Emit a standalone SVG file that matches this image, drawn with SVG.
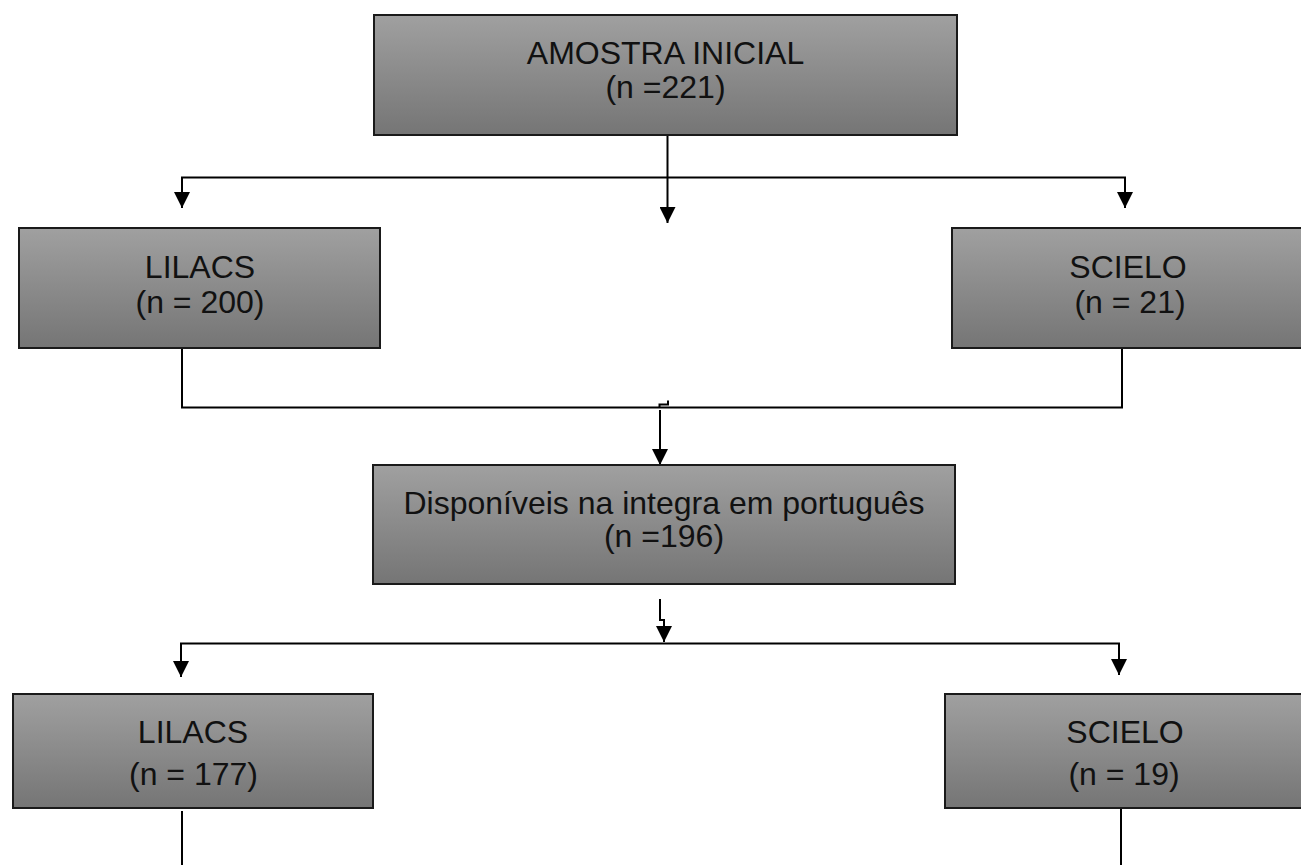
<svg xmlns="http://www.w3.org/2000/svg" width="1301" height="865" viewBox="0 0 1301 865">
<defs>
<linearGradient id="g" x1="0" y1="0" x2="0" y2="1">
<stop offset="0" stop-color="#a0a0a0"/>
<stop offset="1" stop-color="#757575"/>
</linearGradient>
<marker id="arr" viewBox="0 0 15 15" refX="15" refY="7.5" markerWidth="16" markerHeight="16" markerUnits="userSpaceOnUse" orient="auto">
<path d="M0,0 L15,7.5 L0,15 z" fill="#000"/>
</marker>
<style>
.box{fill:url(#g);stroke:#1a1a1a;stroke-width:2}
.t{font-family:"Liberation Sans",Arial,sans-serif;font-size:32px;fill:#111;text-anchor:middle}
.c{fill:none;stroke:#000;stroke-width:2}
</style>
</defs>
<rect width="1301" height="865" fill="#fff"/>
<g id="connectors">
<line class="c" x1="667.5" y1="128" x2="667.5" y2="223" marker-end="url(#arr)"/>
<polyline class="c" points="182,208 182,177.5 1125,177.5 1125,208" marker-end="url(#arr)"/>
<line class="c" x1="182" y1="177.5" x2="182" y2="208" marker-end="url(#arr)"/>
<polyline class="c" points="182,348 182,407.5 1122,407.5 1122,345"/>
<polyline class="c" points="668,400.5 668,404.5 659.5,404.5 659.5,408"/>
<line class="c" x1="660" y1="410" x2="660" y2="465" marker-end="url(#arr)"/>
<polyline class="c" points="660,599 660,620 664,620 664,642" marker-end="url(#arr)"/>
<polyline class="c" points="181,677 181,643.5 1119,643.5 1119,675" marker-end="url(#arr)"/>
<line class="c" x1="181" y1="643.5" x2="181" y2="677" marker-end="url(#arr)"/>
<line class="c" x1="182" y1="811" x2="182" y2="865"/>
<line class="c" x1="1121" y1="808" x2="1121" y2="865"/>
</g>
<g id="n-amostra">
<rect class="box" x="374" y="15" width="583" height="120"/>
<text class="t" x="665.5" y="64">AMOSTRA INICIAL</text>
<text class="t" x="665.5" y="98">(n =221)</text>
</g>
<g id="n-lilacs1">
<rect class="box" x="19" y="228" width="361" height="120"/>
<text class="t" x="200" y="278">LILACS</text>
<text class="t" x="200" y="313">(n = 200)</text>
</g>
<g id="n-scielo1">
<rect class="box" x="952" y="228" width="352" height="120"/>
<text class="t" x="1128" y="278">SCIELO</text>
<text class="t" x="1130" y="313">(n = 21)</text>
</g>
<g id="n-disponiveis">
<rect class="box" x="373" y="465" width="582" height="119"/>
<text class="t" x="664" y="514">Disponíveis na integra em português</text>
<text class="t" x="664" y="547">(n =196)</text>
</g>
<g id="n-lilacs2">
<rect class="box" x="13" y="694" width="360" height="114"/>
<text class="t" x="193" y="743">LILACS</text>
<text class="t" x="193.5" y="785">(n = 177)</text>
</g>
<g id="n-scielo2">
<rect class="box" x="945" y="694" width="360" height="114"/>
<text class="t" x="1125" y="743">SCIELO</text>
<text class="t" x="1124" y="785">(n = 19)</text>
</g>
</svg>
